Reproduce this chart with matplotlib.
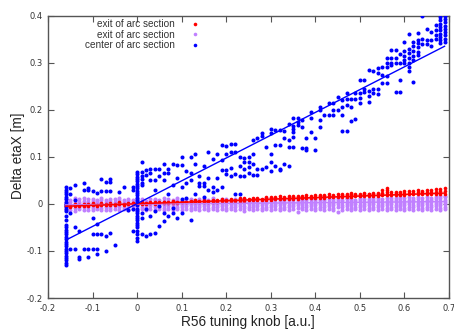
import numpy as np
import matplotlib
matplotlib.use("Agg")
import matplotlib.pyplot as plt
from matplotlib.lines import Line2D

# ---------------- data (y values in units of 1e-3 m) ----------------
knob = [-0.16, -0.15, -0.14, -0.13, -0.12, -0.11, -0.10, -0.09, -0.08, -0.07,
        -0.06, -0.05, -0.04, -0.03, -0.02, -0.01, 0.00, 0.01, 0.02, 0.03,
        0.04, 0.05, 0.06, 0.07, 0.08, 0.09, 0.10, 0.11, 0.12, 0.13,
        0.14, 0.15, 0.16, 0.17, 0.18, 0.19, 0.20, 0.21, 0.22, 0.23,
        0.24, 0.25, 0.26, 0.27, 0.28, 0.29, 0.30, 0.31, 0.32, 0.33,
        0.34, 0.35, 0.36, 0.37, 0.38, 0.39, 0.40, 0.41, 0.42, 0.43,
        0.44, 0.45, 0.46, 0.47, 0.48, 0.49, 0.50, 0.51, 0.52, 0.53,
        0.54, 0.55, 0.56, 0.57, 0.58, 0.59, 0.60, 0.61, 0.62, 0.63,
        0.64, 0.65, 0.66, 0.67, 0.68, 0.69]

red_exit = [
    [-7, -5, -3, -1], [-6, -4], [-5, -3, -1], [-5, -2], [-4, -2, 0], [-4, -1],
    [-3, -1, 1], [-4, -2], [-3, -1, 1], [-2, 0], [-3, -1, 2], [-2, 0],
    [-1, 1, 3], [-2, 0], [-1, 1], [-1, 1, 2], [0, 2], [-1, 1, 3], [0, 2],
    [1, 3], [0, 2, 4], [1, 3], [1, 3, 5], [2, 4], [2, 4, 6], [2, 5],
    [3, 5, 7], [3, 5], [3, 6], [4, 6, 8], [4, 7], [4, 6, 9], [5, 7],
    [5, 7, 9], [5, 8], [6, 8, 10], [6, 9], [6, 8, 11], [7, 9], [7, 9, 12],
    [7, 10, 12], [8, 10], [8, 10, 13], [8, 11, 13], [9, 11], [9, 11, 14],
    [9, 12, 14], [10, 12, 15], [10, 13, 16], [10, 13, 15], [11, 13, 16],
    [11, 14, 17], [11, 14, 16], [12, 15, 17], [12, 14, 18], [12, 15, 17],
    [13, 15, 18], [13, 16, 19], [13, 16, 18], [14, 17, 20], [14, 17, 19],
    [14, 16, 20], [15, 18, 21], [15, 18, 20], [15, 17, 21, 24], [16, 19, 22],
    [16, 19, 21], [16, 20, 23], [17, 20, 22], [17, 20, 24], [17, 21, 23],
    [18, 21, 24, 30], [18, 22, 25, 30, 33], [18, 22, 25], [19, 23, 26],
    [19, 22, 26], [19, 23, 27], [20, 24, 28], [20, 24, 27], [20, 25, 29],
    [21, 25, 28], [21, 26, 30], [21, 25, 29], [22, 26, 31], [22, 27, 32],
    [22, 27, 33]]

purple_exit = [
    [-14, -9, -5, 0, 5, 11], [-12, -7, -2, 3, 9], [-15, -8, -3, 2, 8, 12],
    [-11, -6, -1, 4, 10], [-13, -7, -3, 2, 7, 12], [-12, -6, -1, 5, 10],
    [-14, -9, -4, 1, 6, 11], [-11, -5, 0, 4, 9], [-13, -8, -3, 2, 8, 13],
    [-12, -6, -1, 3, 9], [-14, -9, -4, 1, 6, 11], [-10, -5, 0, 5, 10],
    [-13, -7, -2, 3, 8, 12], [-11, -6, -1, 4, 9], [-12, -8, -3, 2, 7, 11],
    [-10, -5, 0, 4, 9], [-13, -7, -2, 3, 8, 12], [-11, -6, -1, 4, 10],
    [-12, -8, -3, 2, 7], [-10, -5, 0, 5, 10], [-13, -7, -2, 3, 8, 11],
    [-11, -6, -1, 4, 9], [-12, -8, -3, 2, 7, 12], [-10, -5, 0, 5, 10],
    [-13, -7, -2, 3, 8], [-11, -6, -1, 4, 9, 12], [-12, -7, -3, 2, 7],
    [-10, -5, 0, 5, 10], [-13, -8, -2, 3, 8, 11], [-11, -6, -1, 4, 9],
    [-12, -7, -3, 2, 7, 11], [-10, -5, 0, 5, 10], [-13, -8, -2, 3, 8],
    [-11, -6, -1, 4, 9, 12], [-12, -7, -3, 2, 7], [-10, -5, 0, 5, 10],
    [-13, -8, -2, 3, 8, 11], [-11, -6, -1, 4, 9], [-12, -7, -3, 2, 7, 11],
    [-10, -5, 0, 5, 10], [-16, -9, -4, 1, 6, 10], [-11, -6, -1, 4, 9],
    [-12, -7, -2, 3, 8, 11], [-10, -5, 0, 5, 10], [-13, -8, -3, 2, 7],
    [-11, -6, -1, 4, 9, 12], [-12, -7, -2, 3, 8], [-10, -5, 0, 5, 10],
    [-13, -8, -3, 2, 7, 11], [-11, -6, -1, 4, 9], [-12, -7, -2, 3, 8, 12],
    [-10, -5, 0, 5, 10], [-18, -8, -3, 2, 7, 11], [-11, -6, -1, 4, 9],
    [-12, -7, -2, 3, 8, 12], [-10, -5, 0, 5, 10], [-13, -8, -3, 2, 7, 11],
    [-11, -6, -1, 4, 9], [-12, -7, -2, 3, 8, 12], [-10, -5, 0, 5, 10],
    [-13, -8, -3, 2, 7, 11], [-17, -6, -1, 4, 9, 13], [-12, -7, -2, 3, 8],
    [-10, -5, 0, 5, 10, 13], [-13, -8, -3, 2, 7, 11], [-11, -6, -1, 4, 9],
    [-12, -7, -2, 3, 8, 12], [-10, -5, 0, 5, 10], [-13, -8, -3, 2, 7, 11],
    [-11, -6, -1, 4, 9, 13], [-12, -7, -2, 3, 8, 12], [-10, -5, 0, 5, 10],
    [-13, -8, -3, 2, 7, 12], [-11, -6, -1, 4, 9, 13], [-12, -7, -2, 3, 8, 12],
    [-10, -5, 0, 5, 10, 14], [-13, -8, -3, 2, 7, 12], [-11, -6, -1, 4, 9, 14],
    [-12, -7, -2, 3, 8, 13], [-10, -5, 0, 5, 10, 15], [-13, -8, -3, 2, 7, 12],
    [-11, -6, -1, 4, 9, 14], [-12, -7, -2, 3, 8, 13], [-10, -5, 0, 5, 10, 15],
    [-13, -8, -3, 2, 7, 12, 16], [-11, -6, -1, 4, 9, 14, 17]]

blue_center = [
    [35, 30, 25, 20, 15, 10, 5, 0, -5, -10, -15, -25, -35, -45, -50, -55, -60,
     -65, -70, -75, -80, -85, -90, -95, -100, -105, -110, -115, -120, -125, -130],
    [34, 22, -19, -96], [40, 8, -49, -96], [-58, -113, -118], [45, 30, -96],
    [34, 30, -96, -112], [27, -31, -65, -96], [24, -42, -65, -96, -106],
    [52, 27, -65], [46, 27, -69, -100], [52, 46, 27, -62], [-87], [25], [36],
    [-12], [36, 29, -10, -58],
    [68, 63, 58, 53, 48, 43, 38, 33, 28, 23, 18, 13, 8, 3, -2, -10, -15, -20,
     -25, -30, -35, -40, -45, -50, -58, -65, -72, -79],
    [88, 68, 60, 52, 45, 40, -20, -30, -65], [73, 61, -10, -69],
    [75, 65, 50, -25, -65], [75, 50, 30, -15, -62], [75, 60, -5, -46],
    [84, 65, 50, -20, -37], [75, 65, 20, -26], [84, 40, -8, -19], [82, 55, -30],
    [99, 82, 35, 10, -19], [70, 45, 12], [99, 65, 50, -35], [105, 85, 20],
    [60, 45, 38], [80, 45, 38, 15], [110, 55, 30], [95, 35, 25], [107, 55, 30],
    [125, 93, 72, 35], [123, 107, 72, 63], [127, 110, 76, 60], [127, 110, 63, 20],
    [100, 80, 60, 20], [98, 88, 75, 60], [100, 88, 78, 65], [135, 106, 85, 62],
    [140, 75, 62], [150, 145, 75], [120, 78], [160, 150, 106, 90, 70],
    [158, 125, 80], [158, 125, 75, 72], [155, 140, 85], [170, 135, 120, 80],
    [182, 165, 160, 153, 143, 121], [182, 175, 168], [178, 164, 118],
    [140, 118, 115], [196, 182, 153], [140, 115], [206, 200, 178, 164], [190],
    [214, 190], [214, 200, 190], [228, 200], [220, 206, 190, 154],
    [235, 224, 210, 154], [224, 206, 176], [235, 224, 180],
    [263, 235, 225, 215], [263, 245, 238], [284, 240, 230, 217],
    [282, 244, 235], [288, 278, 244, 233], [290, 275, 257],
    [310, 300, 290, 272, 257], [327, 310, 300, 295], [327, 310, 300, 238],
    [318, 300, 263, 238], [345, 325, 315, 305, 300],
    [361, 330, 320, 310, 300, 290, 283], [345, 335, 325, 315, 305, 260],
    [364, 348, 341, 334, 323, 316], [400, 350, 340], [371, 348, 340],
    [365, 348, 335], [380, 370, 360, 350],
    [398, 390, 383, 376, 369, 362, 355, 348, 341],
    [400, 393, 386, 379, 372, 365, 358, 351, 344]]

# least-squares fit lines (end points over the knob range)
fit_x = [-0.16, 0.69]
fit_red = [-0.005, 0.023]
fit_purple = [-0.002, 0.005]
fit_blue = [-0.077, 0.335]

labels = ["exit of arc section", "exit of arc section", "center of arc section"]
xticks = [-0.2, -0.1, 0.0, 0.1, 0.2, 0.3, 0.4, 0.5, 0.6, 0.7]
xtick_labels = ["-0.2", "-0.1", "0", "0.1", "0.2", "0.3", "0.4", "0.5", "0.6", "0.7"]
yticks = [-0.2, -0.1, 0.0, 0.1, 0.2, 0.3, 0.4]
ytick_labels = ["-0.2", "-0.1", "0", "0.1", "0.2", "0.3", "0.4"]

RED = "#ff0000"
PURPLE = "#c080ff"
BLUE = "#0000ff"


def flatten(cols):
    xs, ys = [], []
    for x, col in zip(knob, cols):
        for v in col:
            xs.append(x)
            ys.append(v / 1000.0)
    return np.array(xs), np.array(ys)


# ---------------- figure ----------------
fig = plt.figure(figsize=(4.54, 3.32), dpi=100)
ax = fig.add_axes([48 / 454, 34 / 332, 401 / 454, 282.3 / 332])

px, py = flatten(purple_exit)
ax.plot(px, py, ls="none", marker="o", ms=2.9, mew=0, color=PURPLE, zorder=2)
rx, ry = flatten(red_exit)
ax.plot(rx, ry, ls="none", marker="o", ms=2.6, mew=0, color=RED, zorder=3)
bx, by = flatten(blue_center)
ax.plot(bx, by, ls="none", marker="o", ms=2.9, mew=0, color=BLUE, zorder=4)

ax.plot(fit_x, fit_purple, color=PURPLE, lw=1.0, zorder=5)
ax.plot(fit_x, fit_red, color=RED, lw=1.1, zorder=5)
ax.plot(fit_x, fit_blue, color=BLUE, lw=1.0, zorder=5)

ax.set_xlim(-0.2, 0.7)
ax.set_ylim(-0.2, 0.4)
ax.set_xticks(xticks)
ax.set_xticklabels(xtick_labels)
ax.set_yticks(yticks)
ax.set_yticklabels(ytick_labels)
ax.tick_params(direction="in", length=4, width=0.8, top=True, right=True,
               labelsize=6, labelcolor="#333333", color="#555555", pad=4)
for s in ax.spines.values():
    s.set_color("#555555")
    s.set_linewidth(1.0)

lab_font = dict(family=["Liberation Sans", "DejaVu Sans"], size=9.8, color="#222222")
fig.text(248 / 454, 1 - 322 / 332, "R56 tuning knob [a.u.]", ha="center", va="center", **lab_font)
fig.text(18 / 454, 1 - 156 / 332, "Delta etaX [m]", ha="center", va="center", rotation=90, **lab_font)

handles = [Line2D([], [], ls="none", marker="o", ms=2.6, mew=0, color=c)
           for c in (RED, PURPLE, BLUE)]
leg = ax.legend(handles, labels, loc="upper right",
                bbox_to_anchor=(199 / 454, 1 - 19 / 332), bbox_transform=fig.transFigure,
                markerfirst=False, frameon=False, numpoints=1, handlelength=0.8,
                handletextpad=1.6, labelspacing=0.05, borderpad=0, borderaxespad=0,
                prop=dict(family=["Liberation Sans", "DejaVu Sans"], size=7.2))
for t in leg.get_texts():
    t.set_color("#333333")

fig.savefig("out.png", dpi=100)
